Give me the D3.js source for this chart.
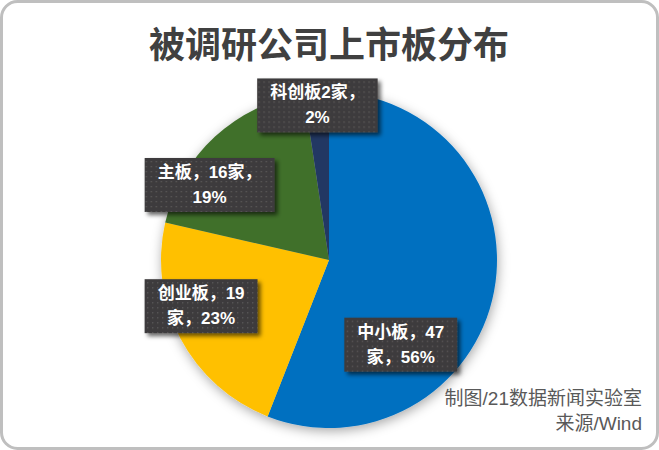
<!DOCTYPE html>
<html><head><meta charset="utf-8">
<script src="https://cdn.jsdelivr.net/npm/d3@7"></script>
<style>html,body{margin:0;padding:0;background:#fff;}svg{display:block;}</style>
</head><body>
<script>
const categories = ["中小板", "创业板", "主板", "科创板"];
const counts = [47, 19, 16, 2];
const percents = ["56%", "23%", "19%", "2%"];
const labelLines = [
  ["中小板，47", "家，56%"],
  ["创业板，19", "家，23%"],
  ["主板，16家，", "19%"],
  ["科创板2家，", "2%"]
];
const colors = ["#0070C0", "#FFC000", "#41702B", "#203864"];

const W = 659, H = 450;
const svg = d3.select("body").append("svg").attr("width", W).attr("height", H);
const defs = svg.append("defs");
const sh = defs.append("filter").attr("id", "pieShadow").attr("x", "-20%").attr("y", "-20%").attr("width", "140%").attr("height", "140%");
sh.append("feDropShadow").attr("dx", 1).attr("dy", 3).attr("stdDeviation", 6).attr("flood-color", "#000").attr("flood-opacity", 0.35);
const bs = defs.append("filter").attr("id", "boxShadow").attr("x", "-20%").attr("y", "-30%").attr("width", "140%").attr("height", "160%");
bs.append("feDropShadow").attr("dx", 3).attr("dy", 3).attr("stdDeviation", 2).attr("flood-color", "#000").attr("flood-opacity", 0.6);
const pat = defs.append("pattern").attr("id", "dots").attr("width", 5).attr("height", 5).attr("patternUnits", "userSpaceOnUse");
pat.append("rect").attr("width", 5).attr("height", 5).attr("fill", "#3d3b3c");
pat.append("rect").attr("x", 1).attr("y", 1).attr("width", 1.3).attr("height", 1.3).attr("fill", "#5d5b5c");

// frame
svg.append("rect").attr("x", 1.5).attr("y", 1.5).attr("width", W - 3).attr("height", H - 3)
  .attr("rx", 16).attr("fill", "#fff").attr("stroke", "#bfbfbf").attr("stroke-width", 3);

// title
svg.append("text").attr("x", 329).attr("y", 42).attr("text-anchor", "middle").attr("dominant-baseline", "central")
  .attr("font-family", "'Noto Sans CJK SC', sans-serif").attr("font-weight", "bold").attr("font-size", 36)
  .attr("fill", "#404040").text("被调研公司上市板分布");

const cx = 329, cy = 260, R = 168;
const data = categories.map((c, i) => ({ cat: c, v: counts[i], i }));
const pie = d3.pie().value(d => d.v).sort(null);
const arcs = pie(data);
const arc = d3.arc().innerRadius(0).outerRadius(R);
const g = svg.append("g").attr("transform", `translate(${cx},${cy})`);
g.append("g").attr("filter", "url(#pieShadow)").selectAll("path").data(arcs).join("path")
  .attr("d", arc).attr("fill", d => colors[d.data.i]);

// labels: anchored on slice angle with a label radius
const labelAngleShift = [39, 8, -15, 0];
const labelRadius = [111, 136, 141, 155];
const lg = g.append("g");
arcs.forEach((a, k) => {
  const mid = (a.startAngle + a.endAngle) / 2 + labelAngleShift[k] * Math.PI / 180;
  const x = Math.sin(mid) * labelRadius[k], y = -Math.cos(mid) * labelRadius[k];
  const grp = lg.append("g").attr("transform", `translate(${x},${y})`);
  const box = grp.append("rect").attr("fill", "url(#dots)").attr("filter", "url(#boxShadow)");
  const t = grp.append("text").attr("text-anchor", "middle")
    .attr("font-family", "'Liberation Sans', 'Noto Sans CJK SC', sans-serif").attr("font-weight", "bold")
    .attr("font-size", 17).attr("fill", "#fff");
  labelLines[k].forEach((ln, j) => {
    t.append("tspan").attr("x", 0).attr("y", (j - 0.5) * 25).attr("dominant-baseline", "central").text(ln);
  });
  const bw = t.node().getBBox().width + 26;
  box.attr("x", -bw / 2).attr("y", -27).attr("width", bw).attr("height", 54);
});

// footer
const ft = svg.append("text").attr("text-anchor", "end").attr("font-family", "'Liberation Sans', 'Noto Sans CJK SC', sans-serif")
  .attr("font-size", 19).attr("fill", "#595959");
ft.append("tspan").attr("x", 642).attr("y", 398).attr("dominant-baseline", "central").text("制图/21数据新闻实验室");
ft.append("tspan").attr("x", 642).attr("y", 423).attr("dominant-baseline", "central").text("来源/Wind");
</script>
</body></html>
